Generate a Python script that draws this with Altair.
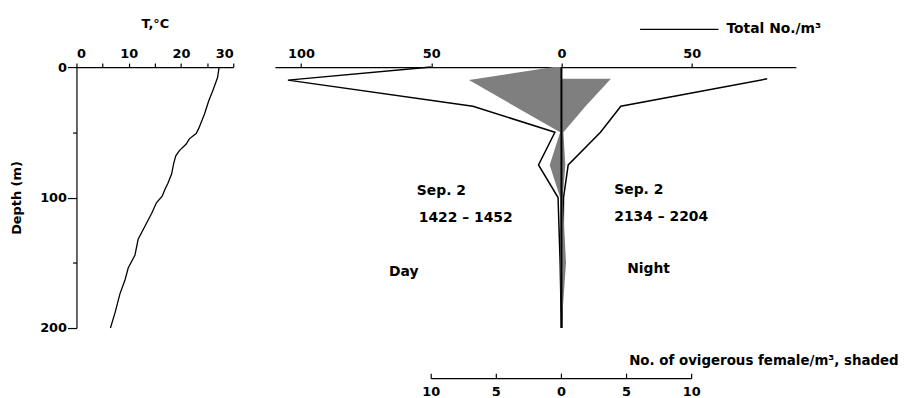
import altair as alt
import pandas as pd

# ---------------- data ----------------
# Temperature profile (left panel)
temp_depth = [0, 8, 18, 26, 36, 47, 51, 55, 59, 64, 68, 74, 82, 89, 94, 99,
              104, 112, 122, 132, 144, 154, 163, 174, 188, 200]
temp_c = [27.3, 27.0, 26.1, 25.3, 24.5, 23.4, 22.9, 21.6, 21.0, 19.7, 19.0,
          18.6, 18.2, 17.5, 16.9, 16.4, 15.3, 14.4, 13.1, 11.8, 11.2, 9.9,
          9.3, 8.3, 7.4, 6.5]

# Day haul (Sep. 2, 1422-1452) plotted to the left
day_depth = [0, 10, 30, 50, 75, 100, 150, 200]
day_total = [50, 105, 34, 2.5, 8.8, 1.3, 0.5, 0.0]
day_female = [0.6, 7.1, 3.6, 0.1, 0.9, 0.1, 0.1, 0.0]

# Night haul (Sep. 2, 2134-2204) plotted to the right
night_depth = [9, 30, 50, 75, 100, 150, 200]
night_total = [79, 22.8, 15, 2.6, 0.8, 0.6, 0.1]
night_female = [3.8, 1.85, 0.15, 0.3, 0.1, 0.35, 0.0]

total_ticks = [-100, -50, 0, 50]
female_ticks = [-10, -5, 0, 5, 10]
FEMALE_FACTOR = 5  # 10 females/m3 share the length of 50 total/m3

FONT = "DejaVu Sans"

temp_df = pd.DataFrame({"depth": temp_depth, "temp": temp_c})

rows = []
for d, t, f in zip(day_depth, day_total, day_female):
    rows.append({"side": "Day", "depth": d, "total": -t, "female": -f})
for d, t, f in zip(night_depth, night_total, night_female):
    rows.append({"side": "Night", "depth": d, "total": t, "female": f})
prof_df = pd.DataFrame(rows)

ftick_df = pd.DataFrame({"t": female_ticks})
one = pd.DataFrame({"a": [0]})

# ---------------- left panel ----------------
left = alt.Chart(temp_df).mark_line(color="black", strokeWidth=1.3).encode(
    x=alt.X("temp:Q", scale=alt.Scale(domain=[0, 30], nice=False),
            axis=alt.Axis(orient="top", values=list(range(0, 31, 5)),
                          labelExpr="datum.value % 10 == 0 ? datum.label : ''",
                          title="T,°C", tickSize=4, labelPadding=3,
                          titlePadding=17)),
    y=alt.Y("depth:Q", scale=alt.Scale(domain=[0, 200], reverse=True, nice=False),
            axis=alt.Axis(values=[0, 50, 100, 150, 200],
                          labelExpr="datum.value % 100 == 0 ? datum.label : ''",
                          title="Depth (m)",
                          tickSize={"condition": {"test": "datum.value % 100 == 0", "value": 9}, "value": 4},
                          labelPadding=1, titlePadding=16)),
    order="depth:Q",
).properties(width=158, height=263)

# ---------------- right panel ----------------
xs = alt.Scale(domain=[-110, 90], nice=False)
ys = alt.Scale(domain=[0, 200], reverse=True, nice=False)

lines = alt.Chart(prof_df).mark_line(color="black", strokeWidth=1.5).encode(
    x=alt.X("total:Q", scale=xs,
            axis=alt.Axis(orient="top", values=total_ticks,
                          labelExpr="abs(datum.value)", title=None,
                          tickSize=4, labelPadding=3)),
    y=alt.Y("depth:Q", scale=ys, axis=None),
    detail="side:N",
    order="depth:Q",
)

area = alt.Chart(prof_df).transform_calculate(
    fx=f"datum.female * {FEMALE_FACTOR}", zero="0"
).mark_area(orient="horizontal", color="#7f7f7f", opacity=1).encode(
    x=alt.X("fx:Q", scale=xs, axis=None),
    x2="zero:Q",
    y=alt.Y("depth:Q", scale=ys, axis=None),
    detail="side:N",
)

center = alt.Chart(one).transform_calculate(
    x0="0", ytop="0", ybot="200"
).mark_rule(color="black", strokeWidth=2).encode(
    x=alt.X("x0:Q", scale=xs, axis=None),
    y=alt.Y("ytop:Q", scale=ys, axis=None),
    y2="ybot:Q",
)

# bottom (female) axis drawn by hand, through the shared x scale
ftick_base = alt.Chart(ftick_df).transform_calculate(
    tx=f"datum.t * {FEMALE_FACTOR}", lab="abs(datum.t)"
)
faxis_line = ftick_base.transform_aggregate(
    lo="min(tx)", hi="max(tx)"
).mark_rule(color="black", strokeWidth=1.2).encode(
    x=alt.X("lo:Q", scale=xs, axis=None), x2="hi:Q", y=alt.value(314)
)
faxis_ticks = ftick_base.mark_rule(color="black", strokeWidth=1.2).encode(
    x=alt.X("tx:Q", scale=xs, axis=None), y=alt.value(314), y2=alt.value(309)
)
faxis_labels = ftick_base.mark_text(
    font=FONT, fontSize=13, fontWeight="bold", baseline="top", color="black"
).encode(x=alt.X("tx:Q", scale=xs, axis=None), y=alt.value(321), text="lab:N")
faxis_title = alt.Chart(one).mark_text(
    font=FONT, fontSize=13.5, fontWeight="bold", align="left",
    baseline="alphabetic", color="black",
    text="No. of ovigerous female/m³, shaded",
).encode(x=alt.value(357), y=alt.value(300))

# legend
leg_line = alt.Chart(one).mark_rule(color="black", strokeWidth=1.3).encode(
    x=alt.value(368), x2=alt.value(447), y=alt.value(-38)
)
leg_text = alt.Chart(one).mark_text(
    font=FONT, fontSize=14, fontWeight="bold", align="left", baseline="middle",
    color="black", text="Total No./m³",
).encode(x=alt.value(455), y=alt.value(-38))


def note(txt, px, py):
    return alt.Chart(one).mark_text(
        font=FONT, fontSize=14, fontWeight="bold", align="left",
        baseline="middle", color="black", text=txt,
    ).encode(x=alt.value(px), y=alt.value(py))


notes = [
    note("Sep. 2", 143, 125),
    note("1422 – 1452", 145, 152),
    note("Day", 115, 207),
    note("Sep. 2", 342, 124),
    note("2134 – 2204", 342, 151),
    note("Night", 355, 204),
]

right = alt.layer(
    lines, area, center, faxis_line, faxis_ticks, faxis_labels, faxis_title,
    leg_line, leg_text, *notes
).resolve_axis(x="independent", y="independent").properties(width=525, height=263)

chart = alt.hconcat(left, right, spacing=42, bounds="flush").properties(
    padding={"left": 2, "top": 8, "right": 5, "bottom": 0}
).configure_view(stroke=None).configure_axis(
    grid=False, domainColor="black", tickColor="black", labelColor="black",
    titleColor="black", domainWidth=1.2, tickWidth=1.2,
    labelFont=FONT, titleFont=FONT, labelFontSize=13, titleFontSize=13,
    labelFontWeight="bold", titleFontWeight="bold",
)

chart.save("out.html", embed_options={"renderer": "svg", "actions": False})
